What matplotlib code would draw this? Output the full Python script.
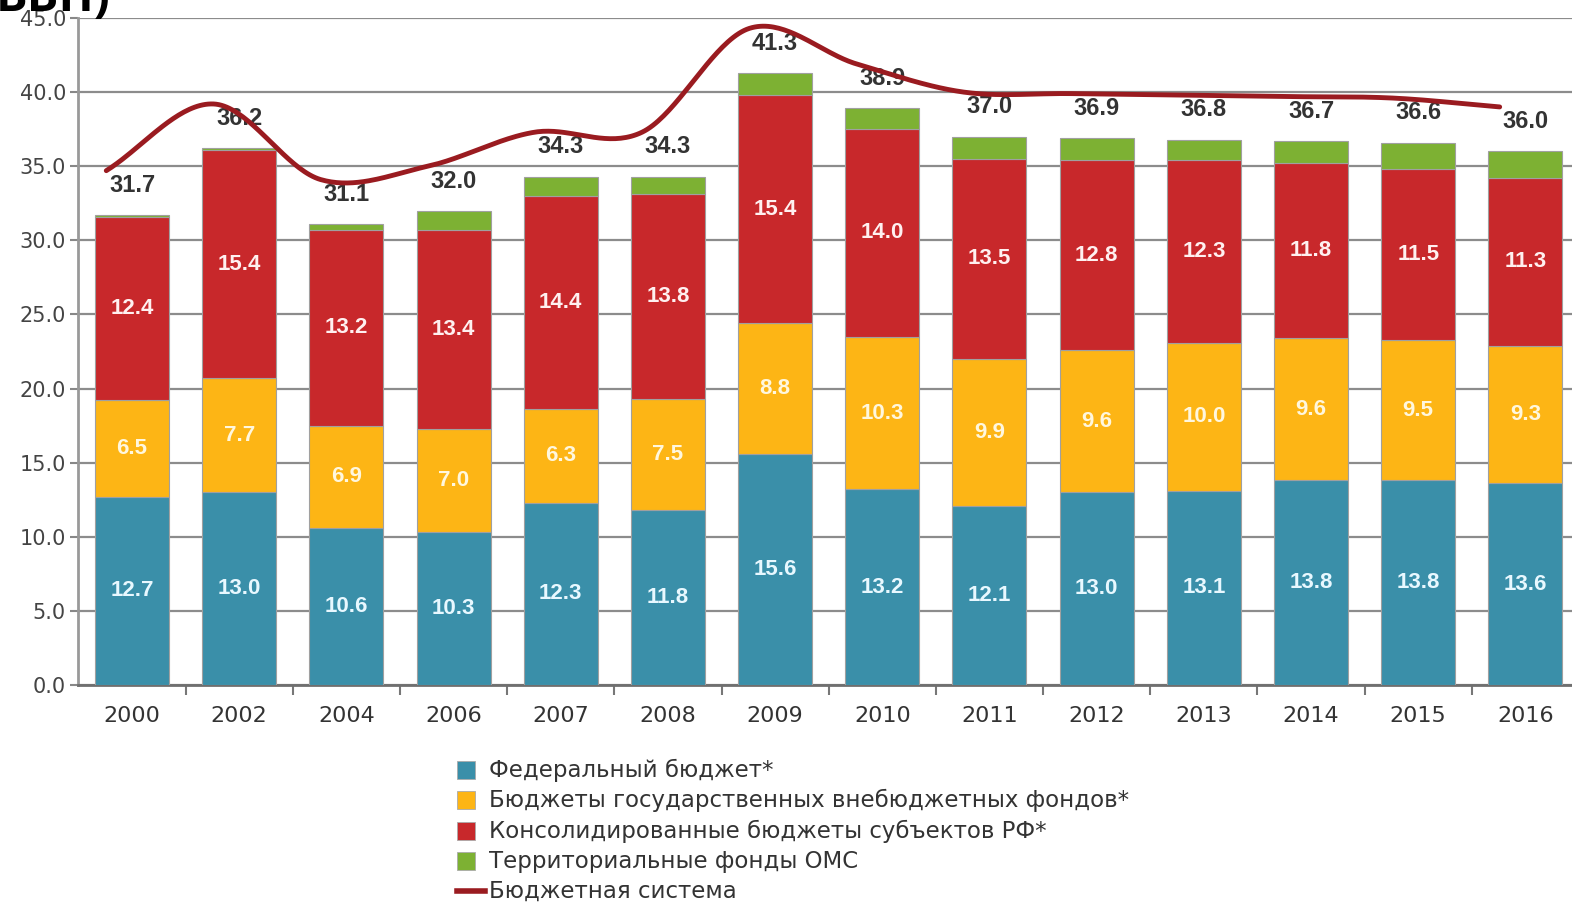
import numpy as np
import matplotlib
matplotlib.use("Agg")
import matplotlib.pyplot as plt
from matplotlib.patches import Rectangle
from matplotlib.lines import Line2D

plt.rcParams["font.family"] = ["DejaVu Sans"]

# --- data (% of GDP) ---
years = ["2000", "2002", "2004", "2006", "2007", "2008", "2009",
         "2010", "2011", "2012", "2013", "2014", "2015", "2016"]
federal = [12.7, 13.0, 10.6, 10.3, 12.3, 11.8, 15.6, 13.2, 12.1, 13.0, 13.1, 13.8, 13.8, 13.6]
offbudget = [6.5, 7.7, 6.9, 7.0, 6.3, 7.5, 8.8, 10.3, 9.9, 9.6, 10.0, 9.6, 9.5, 9.3]
regional = [12.4, 15.4, 13.2, 13.4, 14.4, 13.8, 15.4, 14.0, 13.5, 12.8, 12.3, 11.8, 11.5, 11.3]
total = [31.7, 36.2, 31.1, 32.0, 34.3, 34.3, 41.3, 38.9, 37.0, 36.9, 36.8, 36.7, 36.6, 36.0]
# territorial compulsory medical insurance funds = remainder of the total
oms = [round(t - f - o - r, 1) for t, f, o, r in zip(total, federal, offbudget, regional)]

series_names = ["Федеральный бюджет*",
                "Бюджеты государственных внебюджетных фондов*",
                "Консолидированные бюджеты субъектов РФ*",
                "Территориальные фонды ОМС",
                "Бюджетная система"]

C_BLUE = "#3a8fa9"
C_YELLOW = "#fdb515"
C_RED = "#c8282b"
C_GREEN = "#7db133"
C_LINE = "#9a1b20"
TXT = "#333333"
ARIAL = ["Liberation Sans", "DejaVu Sans"]

W, H = 1572, 905
fig = plt.figure(figsize=(W / 100, H / 100), dpi=100)
ax = fig.add_axes([78.4 / W, (H - 685) / H, 1500.6 / W, 667 / H])

x = np.arange(len(years))
bw = 0.69
stacks = [(federal, C_BLUE, "#e8f8ff"),
          (offbudget, C_YELLOW, "#fff7de"),
          (regional, C_RED, "#fff0f0"),
          (oms, C_GREEN, None)]
bottom = np.zeros(len(years))
for vals, col, tcol in stacks:
    vals = np.array(vals)
    ax.bar(x, vals, bw, bottom=bottom, color=col, edgecolor="#a0a0a0",
           linewidth=0.8, zorder=3)
    if tcol is not None:
        for xi, b, v in zip(x, bottom, vals):
            ax.text(xi, b + v / 2, f"{v:.1f}", ha="center", va="center",
                    fontsize=16, fontweight="bold", color=tcol, family=ARIAL, zorder=5)
    bottom = bottom + vals

for xi, t in zip(x, total):
    ax.text(xi, t + 2.0, f"{t:.1f}", ha="center", va="center",
            fontsize=17, fontweight="bold", color=TXT, family=ARIAL, zorder=6)

ax.set_xlim(-0.5, len(years) - 0.5)
ax.set_ylim(0, 45)
ax.set_yticks(np.arange(0, 46, 5))
ax.set_yticklabels([f"{v:.1f}" for v in np.arange(0, 46, 5)])
ax.set_xticks(x)
ax.set_xticklabels(years)
ax.set_xticks(np.arange(len(years) - 1) + 0.5, minor=True)
ax.tick_params(axis="x", which="major", length=0, pad=15, labelsize=16, labelcolor=TXT)
ax.tick_params(axis="x", which="minor", length=7, width=1.5, color="#777777", direction="out")
ax.tick_params(axis="y", length=6, width=1.5, color="#888888", pad=3,
               labelsize=15, labelcolor="#444444")
ax.grid(axis="y", color="#8c8c8c", linewidth=1.6, zorder=0)
ax.set_axisbelow(True)
for s in ("top", "right"):
    ax.spines[s].set_visible(False)
ax.spines["left"].set_color("#999999")
ax.spines["left"].set_linewidth(2)
ax.spines["bottom"].set_color("#6f6f6f")
ax.spines["bottom"].set_linewidth(2)


def catmull_rom(px, py, n=40):
    pts = np.column_stack([px, py]).astype(float)
    P = np.vstack([2 * pts[0] - pts[1], pts, 2 * pts[-1] - pts[-2]])
    out = []
    for i in range(1, len(P) - 2):
        p0, p1, p2, p3 = P[i - 1], P[i], P[i + 1], P[i + 2]
        t = np.linspace(0, 1, n, endpoint=(i == len(P) - 3))[:, None]
        seg = 0.5 * (2 * p1 + (-p0 + p2) * t
                     + (2 * p0 - 5 * p1 + 4 * p2 - p3) * t ** 2
                     + (-p0 + 3 * p1 - 3 * p2 + p3) * t ** 3)
        out.append(seg)
    c = np.vstack(out)
    return c[:, 0], c[:, 1]


# budget system total as a smooth line on its own (offset) scale
ax2 = ax.twinx()
ax2.set_ylim(-3, 42)
ax2.axis("off")
lx, ly = catmull_rom(x - 0.24, total)
ax2.plot(lx, ly, color=C_LINE, linewidth=3.5, solid_capstyle="round", zorder=7)

# legend
leg_x, leg_text_x = 457, 489
rows = [770, 800, 831, 861, 891]
for name, col, yy in zip(series_names[:4], [C_BLUE, C_YELLOW, C_RED, C_GREEN], rows):
    fig.patches.append(Rectangle((leg_x / W, 1 - (yy + 9) / H), 18 / W, 18 / H,
                                 transform=fig.transFigure, facecolor=col,
                                 edgecolor="#aaaaaa", linewidth=0.6))
    fig.text(leg_text_x / W, 1 - yy / H, name, ha="left", va="center",
             fontsize=16.5, color=TXT)
fig.lines.append(Line2D([leg_x / W, 485 / W], [1 - rows[4] / H] * 2,
                        transform=fig.transFigure, color=C_LINE, linewidth=4))
fig.text(leg_text_x / W, 1 - rows[4] / H, series_names[4], ha="left", va="center",
         fontsize=16.5, color=TXT)

# tail of the heading above the plot
fig.text(110 / W, 1 - 11 / H, "ВВП)", ha="right", va="baseline",
         fontsize=34, fontweight="bold", family=["Open Sans", "DejaVu Sans"], color="black")

fig.savefig("out.png", dpi=100)
